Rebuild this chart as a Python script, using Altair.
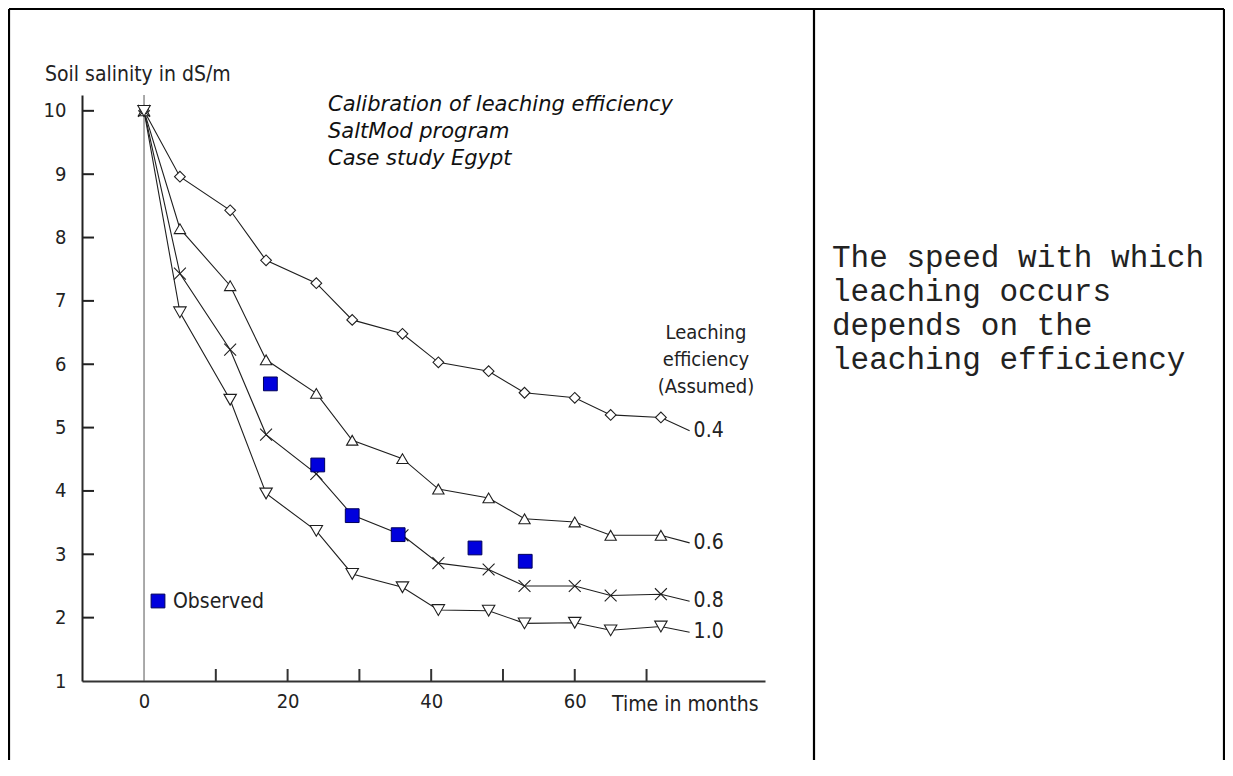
import altair as alt
import pandas as pd

# ---------------- data ----------------
months = [0, 5, 12, 17, 24, 29, 36, 41, 48, 53, 60, 65, 72, 76]
le_04 = [10, 8.96, 8.43, 7.64, 7.28, 6.70, 6.48, 6.03, 5.89, 5.55, 5.47, 5.20, 5.16, 4.95]
le_06 = [10, 8.14, 7.24, 6.07, 5.54, 4.80, 4.51, 4.03, 3.89, 3.56, 3.51, 3.30, 3.30, 3.18]
le_08 = [10, 7.43, 6.23, 4.89, 4.27, 3.62, 3.30, 2.86, 2.76, 2.50, 2.50, 2.35, 2.37, 2.26]
le_10 = [10, 6.82, 5.44, 3.96, 3.37, 2.69, 2.48, 2.12, 2.11, 1.91, 1.92, 1.80, 1.86, 1.77]
series_labels = ["0.4", "0.6", "0.8", "1.0"]
n_markers = 13  # last point of each curve has no marker

obs_months = [17.6, 24.2, 29.0, 35.4, 46.1, 53.1]
obs_values = [5.69, 4.41, 3.61, 3.31, 3.10, 2.89]
obs_label = "Observed"

x_label_values = [0, 20, 40, 60]
x_tick_values = [10, 20, 30, 40, 50, 60, 70]
y_label_values = [1, 2, 3, 4, 5, 6, 7, 8, 9, 10]
y_tick_values = [2, 3, 4, 5, 6, 7, 8, 9, 10]

y_title = "Soil salinity in dS/m"
x_title = "Time in months"
title_lines = "Calibration of leaching efficiency\nSaltMod program\nCase study Egypt"
le_title = "Leaching\nefficiency\n(Assumed)"
side_text = "The speed with which\nleaching occurs\ndepends on the\nleaching efficiency"

# ---------------- tables ----------------
rows = []
for lab, vals in zip(series_labels, [le_04, le_06, le_08, le_10]):
    for i, (m, v) in enumerate(zip(months, vals)):
        rows.append({"le": lab, "month": m, "value": v, "marker": i < n_markers})
curves = pd.DataFrame(rows)
points = curves[curves["marker"]]
ends = curves.groupby("le").tail(1)
obs = pd.DataFrame({"month": obs_months, "value": obs_values})
xticks = pd.DataFrame({"month": x_tick_values})
yticks = pd.DataFrame({"value": y_tick_values})
zero = pd.DataFrame({"month": [0]})
decor = pd.DataFrame({"a": [0]})

# ---------------- layout ----------------
W, H = 683, 586
PAD = {"left": 74, "top": 87, "right": 460, "bottom": 79}
FONT = "DejaVu Sans Condensed, Roboto, sans-serif"
INK = "#1e1e1e"

xscale = alt.Scale(domain=[-8.64, 86.5], nice=False, zero=False)
yscale = alt.Scale(domain=[1, 10.25], nice=False, zero=False)

xaxis = alt.Axis(values=x_label_values, ticks=False, tickSize=0, grid=False, title=None,
                 domainColor="#333333", domainWidth=2, labelFont=FONT, labelFontSize=20,
                 labelColor="#222222", labelPadding=10, labelFlush=False)
yaxis = alt.Axis(values=y_label_values, ticks=False, tickSize=0, grid=False, title=None,
                 domainColor="#222222", domainWidth=2, labelFont=FONT, labelFontSize=20,
                 labelColor="#222222", labelPadding=16, labelFlush=False)

X = alt.X("month:Q", scale=xscale, axis=xaxis)
Y = alt.Y("value:Q", scale=yscale, axis=yaxis)

# frame (table borders)
frame_top = alt.Chart(decor).mark_rule(color="black", strokeWidth=2.2).encode(
    x=alt.value(-73), x2=alt.value(1142), y=alt.value(-86))
frame_left = alt.Chart(decor).mark_rule(color="black", strokeWidth=2.2).encode(
    x=alt.value(-73), y=alt.value(-86), y2=alt.value(H + PAD["bottom"]))
frame_mid = alt.Chart(decor).mark_rule(color="black", strokeWidth=2.2).encode(
    x=alt.value(732), y=alt.value(-86), y2=alt.value(H + PAD["bottom"]))
frame_right = alt.Chart(decor).mark_rule(color="black", strokeWidth=2.2).encode(
    x=alt.value(1142), y=alt.value(-86), y2=alt.value(H + PAD["bottom"]))

lines = alt.Chart(curves).mark_line(color=INK, strokeWidth=1.1).encode(
    x=X, y=Y, detail="le:N", order="month:Q")

zero_line = alt.Chart(zero).mark_rule(color="#555555", strokeWidth=1).encode(
    x=X, y=alt.value(0), y2=alt.value(H))

x_tick_marks = alt.Chart(xticks).mark_rule(color="#333333", strokeWidth=2).encode(
    x=X, y=alt.value(H), y2=alt.value(H - 12))
y_tick_marks = alt.Chart(yticks).mark_rule(color="#222222", strokeWidth=2).encode(
    y=Y, x=alt.value(0), x2=alt.value(12))

shape_scale = alt.Scale(domain=series_labels,
                        range=["diamond", "triangle-up", "M-1,-1L1,1M-1,1L1,-1", "triangle-down"])
size_scale = alt.Scale(domain=series_labels, range=[115, 155, 175, 155])
markers = alt.Chart(points).mark_point(filled=False, fill="white", fillOpacity=1,
                                        stroke=INK, strokeWidth=1.1, opacity=1).encode(
    x=X, y=Y,
    shape=alt.Shape("le:N", scale=shape_scale, legend=None),
    size=alt.Size("le:N", scale=size_scale, legend=None))

observed = alt.Chart(obs).mark_square(size=190, color="#0000dd", stroke="#00005a",
                                       strokeWidth=1, opacity=1).encode(x=X, y=Y)

end_labels = alt.Chart(ends).mark_text(align="left", baseline="middle", dx=4,
                                        font=FONT, fontSize=21, color="#222222").encode(
    x=X, y=Y, text="le:N")

leg_sq = alt.Chart(decor).mark_square(size=190, color="#0000dd", stroke="#00005a",
                                      strokeWidth=1, opacity=1).encode(
    x=alt.value(76), y=alt.value(506))
leg_txt = alt.Chart(decor).mark_text(align="left", baseline="middle", font=FONT,
                                     fontSize=21, color="#222222").encode(
    x=alt.value(91), y=alt.value(507), text=alt.value(obs_label))

ytitle = alt.Chart(decor).mark_text(align="left", baseline="middle", font=FONT,
                                    fontSize=21, color="#222222").encode(
    x=alt.value(-37), y=alt.value(-20), text=alt.value(y_title))
xtitle = alt.Chart(decor).mark_text(align="left", baseline="middle", font=FONT,
                                    fontSize=21, color="#222222").encode(
    x=alt.value(530), y=alt.value(610), text=alt.value(x_title))
title = alt.Chart(decor).mark_text(align="left", baseline="middle", font="DejaVu Sans",
                                   fontStyle="italic", fontSize=21, lineBreak="\n",
                                   lineHeight=27, color="#111111").encode(
    x=alt.value(246), y=alt.value(10), text=alt.value(title_lines))
le_head = alt.Chart(decor).mark_text(align="center", baseline="middle", font=FONT,
                                     fontSize=20, lineBreak="\n", lineHeight=27,
                                     color="#222222").encode(
    x=alt.value(624), y=alt.value(238), text=alt.value(le_title))
side = alt.Chart(decor).mark_text(align="left", baseline="middle",
                                  font="Courier New, Liberation Mono, monospace",
                                  fontSize=31, lineBreak="\n", lineHeight=34,
                                  color="#222222").encode(
    x=alt.value(750), y=alt.value(163), text=alt.value(side_text))

chart = alt.layer(
    lines, zero_line, x_tick_marks, y_tick_marks, markers, observed, end_labels,
    frame_top, frame_left, frame_mid, frame_right,
    leg_sq, leg_txt, ytitle, xtitle, title, le_head, side
).properties(
    width=W, height=H, padding=PAD,
    autosize=alt.AutoSizeParams(type="none"),
    background="white",
).configure_view(stroke=None)

chart.save("out.html", embed_options={"renderer": "svg", "actions": False})
